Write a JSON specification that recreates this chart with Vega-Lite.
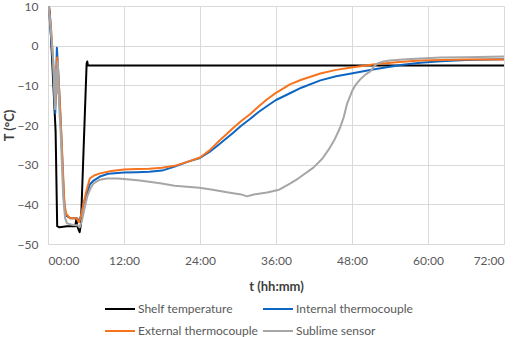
{
  "$schema": "https://vega.github.io/schema/vega-lite/v6.json",
  "width": 456,
  "height": 238,
  "autosize": {"type": "none"},
  "padding": {"left": 48, "top": 6, "right": 14, "bottom": 93},
  "background": "white",
  "config": {
    "font": "Lato",
    "view": {"stroke": null},
    "axis": {"gridColor": "#D9D9D9", "gridWidth": 1, "domain": false, "ticks": false, "labelColor": "#595959", "labelFontSize": 12, "titleColor": "#404040", "titleFontSize": 13, "titleFontWeight": "bold"},
    "legend": {"labelColor": "#595959", "labelFontSize": 12}
  },
  "data": {"values": [
    {"s":"Shelf temperature","t":0,"T":12},{"s":"Shelf temperature","t":0.3,"T":8},{"s":"Shelf temperature","t":1.2,"T":-21.5},{"s":"Shelf temperature","t":1.45,"T":-45.5},{"s":"Shelf temperature","t":1.8,"T":-45.8},{"s":"Shelf temperature","t":3,"T":-45.5},{"s":"Shelf temperature","t":4.3,"T":-45.5},{"s":"Shelf temperature","t":4.5,"T":-43.5},{"s":"Shelf temperature","t":4.6,"T":-45.5},{"s":"Shelf temperature","t":5.0,"T":-47},{"s":"Shelf temperature","t":5.2,"T":-45},{"s":"Shelf temperature","t":6.1,"T":-4.5},{"s":"Shelf temperature","t":6.2,"T":-4.0},{"s":"Shelf temperature","t":6.3,"T":-5},{"s":"Shelf temperature","t":72,"T":-5},
    {"s":"Internal thermocouple","t":0,"T":12},{"s":"Internal thermocouple","t":0.5,"T":2},{"s":"Internal thermocouple","t":0.9,"T":-8},{"s":"Internal thermocouple","t":1.15,"T":-17},{"s":"Internal thermocouple","t":1.4,"T":-0.5},{"s":"Internal thermocouple","t":1.6,"T":-6},{"s":"Internal thermocouple","t":2.0,"T":-19},{"s":"Internal thermocouple","t":2.5,"T":-38},{"s":"Internal thermocouple","t":2.7,"T":-42},{"s":"Internal thermocouple","t":3.0,"T":-43},{"s":"Internal thermocouple","t":3.5,"T":-43.5},{"s":"Internal thermocouple","t":4.5,"T":-43.5},{"s":"Internal thermocouple","t":4.9,"T":-44},{"s":"Internal thermocouple","t":5.2,"T":-43},{"s":"Internal thermocouple","t":5.6,"T":-40},{"s":"Internal thermocouple","t":6.0,"T":-38},{"s":"Internal thermocouple","t":6.6,"T":-35},{"s":"Internal thermocouple","t":7.2,"T":-34},{"s":"Internal thermocouple","t":8.2,"T":-33},{"s":"Internal thermocouple","t":9.5,"T":-32.3},{"s":"Internal thermocouple","t":12,"T":-32},{"s":"Internal thermocouple","t":14,"T":-31.9},{"s":"Internal thermocouple","t":16,"T":-31.8},{"s":"Internal thermocouple","t":18,"T":-31.5},{"s":"Internal thermocouple","t":20,"T":-30.5},{"s":"Internal thermocouple","t":22,"T":-29.3},{"s":"Internal thermocouple","t":24,"T":-28.3},{"s":"Internal thermocouple","t":25.5,"T":-26.8},{"s":"Internal thermocouple","t":26.7,"T":-25.3},{"s":"Internal thermocouple","t":28,"T":-23.6},{"s":"Internal thermocouple","t":29.2,"T":-22},{"s":"Internal thermocouple","t":30.5,"T":-20.2},{"s":"Internal thermocouple","t":31.9,"T":-18.5},{"s":"Internal thermocouple","t":33.2,"T":-16.8},{"s":"Internal thermocouple","t":34.6,"T":-15.2},{"s":"Internal thermocouple","t":36,"T":-13.7},{"s":"Internal thermocouple","t":38.2,"T":-12},{"s":"Internal thermocouple","t":40,"T":-10.6},{"s":"Internal thermocouple","t":43,"T":-8.75},{"s":"Internal thermocouple","t":45.5,"T":-7.7},{"s":"Internal thermocouple","t":47.9,"T":-7},{"s":"Internal thermocouple","t":51.3,"T":-6},{"s":"Internal thermocouple","t":54,"T":-5.3},{"s":"Internal thermocouple","t":56,"T":-4.8},{"s":"Internal thermocouple","t":58.8,"T":-4.3},{"s":"Internal thermocouple","t":62,"T":-3.9},{"s":"Internal thermocouple","t":66,"T":-3.6},{"s":"Internal thermocouple","t":72,"T":-3.4},
    {"s":"External thermocouple","t":0,"T":12},{"s":"External thermocouple","t":0.5,"T":4},{"s":"External thermocouple","t":0.9,"T":-6},{"s":"External thermocouple","t":1.15,"T":-15},{"s":"External thermocouple","t":1.45,"T":-3},{"s":"External thermocouple","t":1.7,"T":-9},{"s":"External thermocouple","t":2.1,"T":-22},{"s":"External thermocouple","t":2.6,"T":-40},{"s":"External thermocouple","t":2.9,"T":-42.5},{"s":"External thermocouple","t":3.5,"T":-43.5},{"s":"External thermocouple","t":4.5,"T":-43.5},{"s":"External thermocouple","t":4.9,"T":-44.5},{"s":"External thermocouple","t":5.2,"T":-43},{"s":"External thermocouple","t":5.6,"T":-40},{"s":"External thermocouple","t":6.0,"T":-37},{"s":"External thermocouple","t":6.6,"T":-33.5},{"s":"External thermocouple","t":7.2,"T":-32.8},{"s":"External thermocouple","t":8.2,"T":-32.2},{"s":"External thermocouple","t":10,"T":-31.6},{"s":"External thermocouple","t":12,"T":-31.2},{"s":"External thermocouple","t":14,"T":-31.1},{"s":"External thermocouple","t":16,"T":-31},{"s":"External thermocouple","t":18,"T":-30.8},{"s":"External thermocouple","t":20,"T":-30.3},{"s":"External thermocouple","t":22,"T":-29.3},{"s":"External thermocouple","t":24,"T":-28.2},{"s":"External thermocouple","t":25.5,"T":-26.4},{"s":"External thermocouple","t":26.7,"T":-24.5},{"s":"External thermocouple","t":28,"T":-22.6},{"s":"External thermocouple","t":29.2,"T":-20.8},{"s":"External thermocouple","t":30.5,"T":-19},{"s":"External thermocouple","t":31.9,"T":-17.3},{"s":"External thermocouple","t":33.2,"T":-15.4},{"s":"External thermocouple","t":34.6,"T":-13.5},{"s":"External thermocouple","t":36,"T":-11.9},{"s":"External thermocouple","t":38.2,"T":-9.75},{"s":"External thermocouple","t":40,"T":-8.6},{"s":"External thermocouple","t":43,"T":-7},{"s":"External thermocouple","t":45.5,"T":-6.1},{"s":"External thermocouple","t":47.9,"T":-5.5},{"s":"External thermocouple","t":51.3,"T":-4.75},{"s":"External thermocouple","t":55,"T":-4.2},{"s":"External thermocouple","t":58.8,"T":-3.75},{"s":"External thermocouple","t":62,"T":-3.6},{"s":"External thermocouple","t":66,"T":-3.5},{"s":"External thermocouple","t":72,"T":-3.5},
    {"s":"Sublime sensor","t":0,"T":12},{"s":"Sublime sensor","t":0.4,"T":5},{"s":"Sublime sensor","t":0.8,"T":-3},{"s":"Sublime sensor","t":1.0,"T":-12},{"s":"Sublime sensor","t":1.1,"T":-16},{"s":"Sublime sensor","t":1.25,"T":-6},{"s":"Sublime sensor","t":1.4,"T":-12},{"s":"Sublime sensor","t":1.55,"T":-4},{"s":"Sublime sensor","t":1.75,"T":-15},{"s":"Sublime sensor","t":2.0,"T":-22},{"s":"Sublime sensor","t":2.4,"T":-38},{"s":"Sublime sensor","t":2.7,"T":-43.5},{"s":"Sublime sensor","t":3.0,"T":-44.8},{"s":"Sublime sensor","t":4.0,"T":-45.2},{"s":"Sublime sensor","t":4.7,"T":-45.3},{"s":"Sublime sensor","t":5.0,"T":-45.8},{"s":"Sublime sensor","t":5.3,"T":-44.5},{"s":"Sublime sensor","t":5.7,"T":-41.5},{"s":"Sublime sensor","t":6.2,"T":-38},{"s":"Sublime sensor","t":6.7,"T":-36},{"s":"Sublime sensor","t":7.2,"T":-34.7},{"s":"Sublime sensor","t":8.2,"T":-33.8},{"s":"Sublime sensor","t":9.3,"T":-33.5},{"s":"Sublime sensor","t":11,"T":-33.5},{"s":"Sublime sensor","t":12,"T":-33.6},{"s":"Sublime sensor","t":14.5,"T":-34},{"s":"Sublime sensor","t":17.7,"T":-34.7},{"s":"Sublime sensor","t":20,"T":-35.3},{"s":"Sublime sensor","t":23.9,"T":-35.8},{"s":"Sublime sensor","t":26,"T":-36.3},{"s":"Sublime sensor","t":28.5,"T":-37},{"s":"Sublime sensor","t":30.5,"T":-37.5},{"s":"Sublime sensor","t":31.4,"T":-38},{"s":"Sublime sensor","t":32.5,"T":-37.5},{"s":"Sublime sensor","t":34.6,"T":-37},{"s":"Sublime sensor","t":36.5,"T":-36.3},{"s":"Sublime sensor","t":38.2,"T":-34.8},{"s":"Sublime sensor","t":39.5,"T":-33.5},{"s":"Sublime sensor","t":41.9,"T":-30.75},{"s":"Sublime sensor","t":43.3,"T":-28.5},{"s":"Sublime sensor","t":44.5,"T":-25.75},{"s":"Sublime sensor","t":45.3,"T":-23.5},{"s":"Sublime sensor","t":46.1,"T":-20.75},{"s":"Sublime sensor","t":46.7,"T":-18},{"s":"Sublime sensor","t":47.2,"T":-14.75},{"s":"Sublime sensor","t":48,"T":-11.5},{"s":"Sublime sensor","t":48.6,"T":-9.8},{"s":"Sublime sensor","t":49.3,"T":-8.5},{"s":"Sublime sensor","t":50.1,"T":-7.3},{"s":"Sublime sensor","t":50.9,"T":-6.5},{"s":"Sublime sensor","t":51.5,"T":-5.2},{"s":"Sublime sensor","t":52,"T":-4.5},{"s":"Sublime sensor","t":53,"T":-4},{"s":"Sublime sensor","t":54,"T":-3.75},{"s":"Sublime sensor","t":56,"T":-3.5},{"s":"Sublime sensor","t":58.8,"T":-3.25},{"s":"Sublime sensor","t":62,"T":-3},{"s":"Sublime sensor","t":66,"T":-2.9},{"s":"Sublime sensor","t":72,"T":-2.75}
  ]},
  "mark": {"type": "line", "clip": true, "strokeJoin": "round"},
  "encoding": {
    "x": {"field": "t", "type": "quantitative", "scale": {"domain": [0, 72], "nice": false},
      "axis": {"values": [0, 12, 24, 36, 48, 60, 72], "title": "t (hh:mm)", "labelPadding": 11, "titlePadding": 14,
        "labelExpr": "(datum.value < 10 ? '0' : '') + datum.value + ':00'"}},
    "y": {"field": "T", "type": "quantitative", "scale": {"domain": [-50, 10], "nice": false},
      "axis": {"values": [-50, -40, -30, -20, -10, 0, 10], "title": "T (°C)", "labelPadding": 10, "titlePadding": 1}},
    "color": {"field": "s", "type": "nominal",
      "scale": {"domain": ["Shelf temperature", "Internal thermocouple", "External thermocouple", "Sublime sensor"],
                "range": ["#000000", "#0F66C2", "#F7731E", "#A6A6A6"]},
      "legend": {"title": null, "orient": "none", "legendX": 56, "legendY": 287, "direction": "horizontal", "columns": 2,
        "symbolType": "stroke", "symbolSize": 900, "symbolStrokeWidth": 2.5, "labelOffset": 2, "columnPadding": 1, "rowPadding": -7, "labelLimit": 200}},
    "strokeWidth": {"field": "s", "type": "nominal",
      "scale": {"domain": ["Shelf temperature", "Internal thermocouple", "External thermocouple", "Sublime sensor"], "range": [2, 2, 2.2, 3]},
      "legend": null}
  }
}
